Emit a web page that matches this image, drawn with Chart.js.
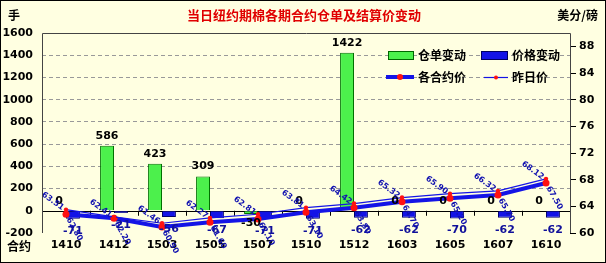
<!DOCTYPE html>
<html>
<head>
<meta charset="utf-8">
<script src="https://cdn.jsdelivr.net/npm/chart.js@4.4.0/dist/chart.umd.min.js"></script>
<style>
  html, body { margin: 0; padding: 0; background: #FFFFE1; }
  #wrap { width: 606px; height: 263px; }
</style>
</head>
<body>
<div id="wrap"><canvas id="myChart" width="606" height="263"></canvas></div>
<script>
// Data
const categories = ['1410', '1412', '1503', '1505', '1507', '1510', '1512', '1603', '1605', '1607', '1610'];
const warrantChange = [0, 586, 423, 309, -30, 0, 1422, 0, 0, 0, 0];
const priceChange = [-71, -21, -56, -67, -71, -71, -62, -62, -70, -62, -62];
const settlePrice = [62.80, 62.20, 60.90, 61.60, 62.10, 63.10, 63.80, 64.70, 65.20, 65.70, 67.50];
const prevPrice = [63.51, 62.41, 61.46, 62.27, 62.81, 63.81, 64.42, 65.32, 65.90, 66.32, 68.12];
const leftTicks = [-200, 0, 200, 400, 600, 800, 1000, 1200, 1400, 1600];
const rightTicks = [60, 64, 68, 72, 76, 80, 84, 88];

const numFont = "'DejaVu Sans', sans-serif";
const cjkFont = "'Noto Sans CJK SC', sans-serif";
const bgColor = '#FFFFE1';
const green = '#4CF04C';
const blue = '#1414E6';

const ctx = document.getElementById('myChart').getContext('2d');

// Title, units, legend, labels
const decorPlugin = {
  id: 'decor',
  beforeDraw(chart) {
    const c = chart.ctx;
    c.save();
    c.fillStyle = bgColor;
    c.fillRect(0, 0, chart.width, chart.height);
    c.restore();
  },
  beforeDatasetsDraw(chart) {
    const c = chart.ctx;
    const area = chart.chartArea;
    const y0 = chart.scales.y.getPixelForValue(0);
    const step = (area.right - area.left) / categories.length;
    c.save();
    c.strokeStyle = '#000';
    c.lineWidth = 1;
    c.beginPath();
    c.moveTo(area.left, Math.round(y0) + 0.5);
    c.lineTo(area.right, Math.round(y0) + 0.5);
    for (let i = 1; i < categories.length; i++) {
      const x = Math.round(area.left + i * step) + 0.5;
      c.moveTo(x, y0);
      c.lineTo(x, y0 + 5);
    }
    c.stroke();
    c.restore();
  },
  afterDatasetsDraw(chart) {
    const c = chart.ctx;
    c.save();
    c.font = 'bold 11px ' + numFont;
    c.textAlign = 'center';
    c.textBaseline = 'middle';

    // green bar labels
    chart.getDatasetMeta(0).data.forEach(function (bar, i) {
      const v = warrantChange[i];
      c.fillStyle = '#000';
      if (v >= 0) {
        c.fillText(v, bar.x, bar.y - 10);
      } else {
        c.fillText(v, bar.x, bar.y + 9);
      }
    });

    // blue bar labels
    chart.getDatasetMeta(1).data.forEach(function (bar, i) {
      c.fillStyle = '#10109A';
      c.fillText(priceChange[i], bar.x, bar.y + 12);
    });

    // rotated price labels
    c.font = 'bold 8px ' + numFont;
    c.fillStyle = '#1010B0';
    const settleMeta = chart.getDatasetMeta(2).data;
    const prevMeta = chart.getDatasetMeta(3).data;
    settleMeta.forEach(function (p, i) {
      c.save();
      c.translate(p.x + 2, p.y + 4);
      c.rotate(Math.PI / 3);
      c.textAlign = 'left';
      c.fillText(settlePrice[i].toFixed(2), 0, 0);
      c.restore();
    });
    prevMeta.forEach(function (p, i) {
      c.save();
      c.translate(p.x - 3, p.y - 1);
      c.rotate(Math.PI / 5);
      c.textAlign = 'right';
      c.fillText(prevPrice[i].toFixed(2), 0, 0);
      c.restore();
    });
    c.restore();
  },
  afterDraw(chart) {
    const c = chart.ctx;
    const area = chart.chartArea;
    c.save();

    // plot frame
    c.strokeStyle = '#444';
    c.lineWidth = 1;
    c.beginPath();
    c.moveTo(Math.round(area.left) + 0.5, area.bottom);
    c.lineTo(Math.round(area.left) + 0.5, Math.round(area.top) + 0.5);
    c.lineTo(Math.round(area.right) + 0.5, Math.round(area.top) + 0.5);
    c.lineTo(Math.round(area.right) + 0.5, area.bottom);
    c.stroke();

    // outer border
    c.strokeStyle = '#000';
    c.strokeRect(0.5, 0.5, chart.width - 1, chart.height - 1);

    // title and units
    c.textBaseline = 'middle';
    c.textAlign = 'center';
    c.font = 'bold 13px ' + cjkFont;
    c.fillStyle = '#E00000';
    c.fillText('当日纽约期棉各期合约仓单及结算价变动', 304, 15);

    c.fillStyle = '#000';
    c.font = 'bold 12px ' + cjkFont;
    c.textAlign = 'left';
    c.fillText('手', 8, 15);
    c.fillText('合约', 7, 246);
    c.textAlign = 'right';
    c.fillText('美分/磅', 598, 15);

    // legend
    c.textAlign = 'left';
    c.font = 'bold 12px ' + cjkFont;
    c.fillStyle = green;
    c.fillRect(388, 51, 25, 8);
    c.strokeStyle = '#006600';
    c.strokeRect(388.5, 51.5, 25, 8);
    c.fillStyle = blue;
    c.fillRect(481, 51, 26, 8);
    c.strokeStyle = '#000060';
    c.strokeRect(481.5, 51.5, 26, 8);
    c.fillStyle = '#000';
    c.fillText('仓单变动', 418, 55);
    c.fillText('价格变动', 512, 55);

    c.strokeStyle = blue;
    c.lineWidth = 4;
    c.beginPath();
    c.moveTo(386, 77);
    c.lineTo(414, 77);
    c.stroke();
    c.fillStyle = '#FF1010';
    c.beginPath();
    c.arc(400, 77, 3, 0, Math.PI * 2);
    c.fill();

    c.lineWidth = 1.2;
    c.beginPath();
    c.moveTo(484, 77.5);
    c.lineTo(508, 77.5);
    c.stroke();
    c.beginPath();
    c.arc(496, 77.5, 2, 0, Math.PI * 2);
    c.fill();

    c.fillStyle = '#000';
    c.fillText('各合约价', 418, 77);
    c.fillText('昨日价', 512, 77);
    c.restore();
  },
};

const myChart = new Chart(ctx, {
  type: 'bar',
  data: {
    labels: categories,
    datasets: [
      {
        label: '仓单变动',
        data: warrantChange,
        backgroundColor: green,
        borderColor: '#007000',
        borderWidth: 1,
        yAxisID: 'y',
        order: 2,
        categoryPercentage: 0.58,
        barPercentage: 1.0,
      },
      {
        label: '价格变动',
        data: priceChange,
        backgroundColor: blue,
        borderColor: '#000070',
        borderWidth: 1,
        yAxisID: 'y',
        order: 2,
        categoryPercentage: 0.58,
        barPercentage: 1.0,
      },
      {
        type: 'line',
        label: '各合约价',
        data: settlePrice,
        borderColor: blue,
        borderWidth: 4,
        pointRadius: 3.5,
        pointBackgroundColor: '#FF1010',
        pointBorderColor: '#FF1010',
        pointBorderWidth: 0,
        yAxisID: 'y1',
        order: 1,
        tension: 0,
      },
      {
        type: 'line',
        label: '昨日价',
        data: prevPrice,
        borderColor: blue,
        borderWidth: 1.2,
        pointRadius: 2.2,
        pointBackgroundColor: '#FF1010',
        pointBorderColor: '#FF1010',
        pointBorderWidth: 0,
        yAxisID: 'y1',
        order: 0,
        tension: 0,
      },
    ],
  },
  options: {
    responsive: false,
    animation: false,
    layout: {
      padding: { top: 33, left: 0, right: 0, bottom: 0 },
    },
    plugins: {
      legend: { display: false },
      tooltip: { enabled: false },
    },
    scales: {
      x: {
        grid: { display: false, drawTicks: false },
        border: { display: false },
        ticks: {
          color: '#000',
          padding: 6,
          maxRotation: 0,
          font: { family: numFont, size: 11, weight: 'bold' },
        },
        afterFit: function (scale) {
          scale.height = 30;
        },
      },
      y: {
        position: 'left',
        min: -200,
        max: 1600,
        afterBuildTicks: function (scale) {
          scale.ticks = leftTicks.map((v) => ({ value: v }));
        },
        grid: {
          drawTicks: false,
          color: function (context) {
            const v = context.tick.value;
            if (v === 0 || v === -200 || v === 1600) {
              return 'rgba(0,0,0,0)';
            }
            return '#999';
          },
        },
        border: { display: false, dash: [4, 3] },
        ticks: {
          color: '#000',
          padding: 9,
          font: { family: numFont, size: 11, weight: 'bold' },
          callback: function (value) {
            return String(value);
          },
        },
        afterFit: function (scale) {
          scale.width = 42;
        },
      },
      y1: {
        position: 'right',
        min: 60,
        max: 90,
        afterBuildTicks: function (scale) {
          scale.ticks = rightTicks.map((v) => ({ value: v }));
        },
        grid: {
          drawOnChartArea: false,
          tickLength: 6,
          color: '#000',
        },
        border: { display: false },
        ticks: {
          color: '#000',
          padding: 3,
          font: { family: numFont, size: 11, weight: 'bold' },
          callback: function (value) {
            return String(value);
          },
        },
        afterFit: function (scale) {
          scale.width = 36;
        },
      },
    },
  },
  plugins: [decorPlugin],
});
</script>
</body>
</html>
